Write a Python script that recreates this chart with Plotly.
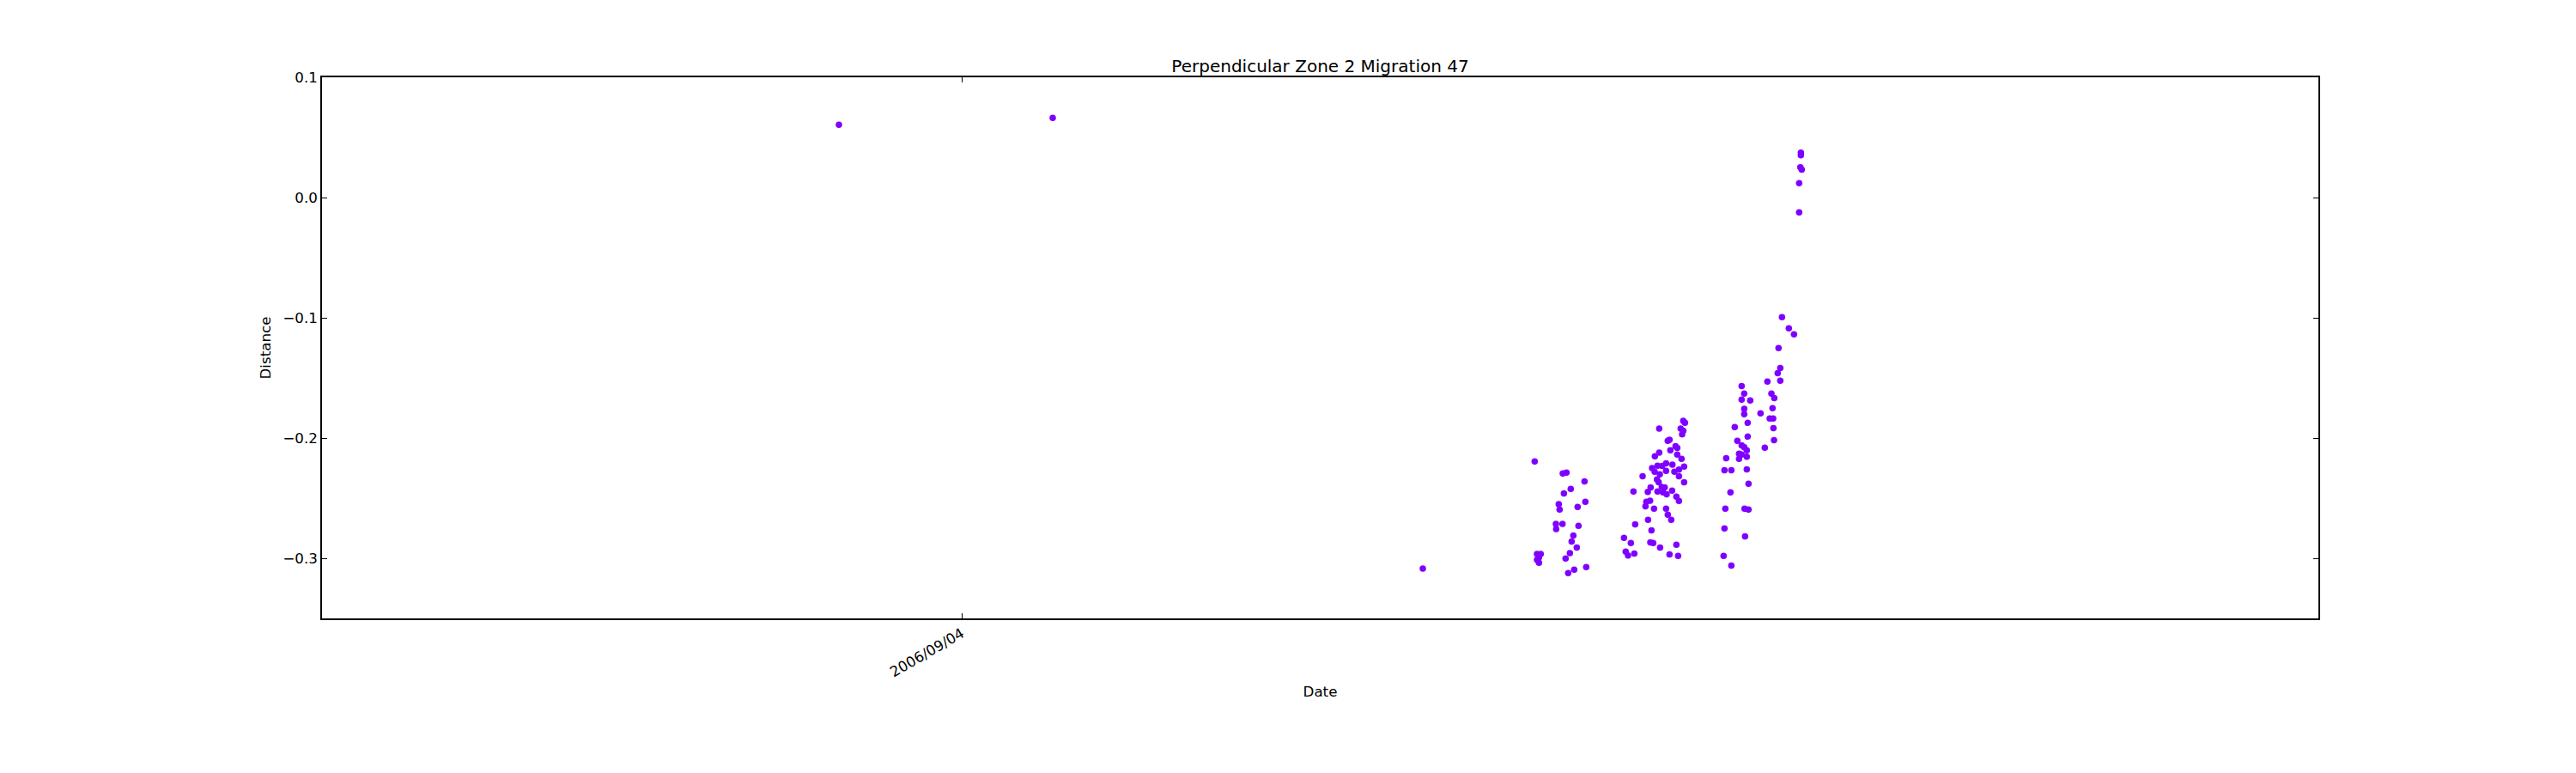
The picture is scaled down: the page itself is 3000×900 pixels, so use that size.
import pandas as pd
import plotly.graph_objects as go

# ---- text ----
chart_title = "Perpendicular Zone 2 Migration 47"
x_label = "Date"
y_label = "Distance"

# ---- axes ----
time_epoch = "2006-09-04 00:00"
x_view = ["2006-08-31 21:30", "2006-09-10 14:00"]
x_tick_dates = ["2006-09-04"]
x_tick_labels = ["2006/09/04"]
y_view = [-0.35, 0.1]
y_ticks = [0.1, 0.0, -0.1, -0.2, -0.3]

# ---- data: hours elapsed since 2006-09-04 00:00, and distance ----
hours_early = [-14.30, 10.60, 53.70]
distance_early = [0.0605, 0.0662, -0.3086]

hours_group1 = [66.73, 70.00, 70.43, 72.53, 70.93, 70.13, 72.63, 69.53, 69.63, 71.73,
                69.20, 69.97, 69.23, 71.83, 71.23, 71.03, 71.63, 70.83, 70.33, 72.73,
                71.33, 70.63, 67.00, 67.43, 67.23, 67.00, 67.23]
distance_group1 = [-0.2195, -0.2295, -0.2288, -0.2360, -0.2424, -0.2460, -0.2531, -0.2550, -0.2595, -0.2574,
                   -0.2714, -0.2714, -0.2757, -0.2731, -0.2810, -0.2860, -0.2910, -0.2957, -0.3002, -0.3074,
                   -0.3095, -0.3124, -0.2964, -0.2964, -0.2993, -0.3012, -0.3038]

hours_group2 = [84.03, 84.23, 81.23, 83.73, 84.03, 83.90, 82.23, 82.43, 83.13, 83.33,
                82.53, 81.23, 80.73, 83.33, 83.83, 84.13, 80.40, 81.03, 81.57, 82.03,
                82.77, 82.03, 83.00, 83.53, 80.70, 81.30, 79.30, 83.53, 80.97, 81.17,
                84.13, 81.53, 81.87, 80.23, 79.90, 78.23, 81.03, 81.67, 82.10, 82.73,
                83.23, 83.53, 79.73, 80.17, 79.63, 80.63, 82.03, 82.23, 82.63, 79.93,
                78.43, 80.33, 77.13, 77.93, 80.20, 80.53, 81.33, 83.23, 77.33, 77.60,
                78.33, 82.43, 83.43]
distance_group2 = [-0.1857, -0.1874, -0.1921, -0.1921, -0.1940, -0.1969, -0.2024, -0.2014, -0.2067, -0.2083,
                   -0.2102, -0.2121, -0.2152, -0.2138, -0.2174, -0.2238, -0.2250, -0.2231, -0.2233, -0.2210,
                   -0.2221, -0.2274, -0.2281, -0.2262, -0.2281, -0.2302, -0.2317, -0.2317, -0.2345, -0.2367,
                   -0.2367, -0.2407, -0.2410, -0.2410, -0.2448, -0.2445, -0.2445, -0.2452, -0.2467, -0.2438,
                   -0.2488, -0.2524, -0.2531, -0.2521, -0.2567, -0.2588, -0.2588, -0.2638, -0.2681, -0.2681,
                   -0.2717, -0.2767, -0.2831, -0.2874, -0.2867, -0.2874, -0.2910, -0.2888, -0.2945, -0.2976,
                   -0.2960, -0.2967, -0.2981]

hours_group3 = [95.53, 96.33, 96.93, 95.13, 95.33, 95.03, 95.33, 93.83, 90.83, 91.13,
                90.83, 91.83, 94.30, 94.63, 91.13, 91.13, 94.43, 93.03, 94.10, 94.50,
                91.53, 90.03, 94.53, 91.53, 90.33, 94.60, 90.83, 91.13, 90.53, 91.43,
                91.43, 90.53, 90.83, 93.53, 89.03, 88.83, 89.63, 91.43, 91.63, 89.53,
                88.93, 91.17, 91.63, 88.83, 91.23, 88.73, 89.63,
                97.73, 97.73, 97.67, 97.83, 97.53, 97.53]
distance_group3 = [-0.0995, -0.1088, -0.1138, -0.1252, -0.1417, -0.1460, -0.1524, -0.1531, -0.1567, -0.1631,
                   -0.1681, -0.1688, -0.1631, -0.1667, -0.1757, -0.1802, -0.1752, -0.1795, -0.1838, -0.1838,
                   -0.1874, -0.1909, -0.1917, -0.1988, -0.2024, -0.2017, -0.2060, -0.2076, -0.2131, -0.2102,
                   -0.2155, -0.2174, -0.2138, -0.2081, -0.2167, -0.2267, -0.2267, -0.2260, -0.2381, -0.2452,
                   -0.2588, -0.2588, -0.2595, -0.2752, -0.2817, -0.2981, -0.3060,
                   0.0374, 0.0352, 0.0252, 0.0233, 0.0119, -0.0124]

hours = hours_early + hours_group1 + hours_group2 + hours_group3
distance = distance_early + distance_group1 + distance_group2 + distance_group3
dates = pd.Timestamp(time_epoch) + pd.to_timedelta(hours, unit="h")

FONT = "DejaVu Sans"

fig = go.Figure(
    go.Scatter(
        x=dates,
        y=distance,
        mode="markers",
        marker=dict(color="#7f00ff", size=7.5, line=dict(width=0)),
        showlegend=False,
    )
)

axis_common = dict(
    showline=True,
    linecolor="black",
    linewidth=1.5,
    mirror="allticks",
    ticks="inside",
    ticklen=6,
    tickwidth=1,
    tickcolor="black",
    showgrid=False,
    zeroline=False,
    tickfont=dict(family=FONT, size=16.7, color="black"),
)

fig.update_xaxes(
    type="date",
    range=x_view,
    tickmode="array",
    tickvals=x_tick_dates,
    ticktext=x_tick_labels,
    tickangle=-30,
    title=dict(text=x_label, font=dict(family=FONT, size=16.7, color="black"), standoff=8),
    **axis_common,
)
fig.update_yaxes(
    range=y_view,
    tickmode="array",
    tickvals=y_ticks,
    tickformat=".1f",
    title=dict(text=y_label, font=dict(family=FONT, size=16.7, color="black"), standoff=10),
    **axis_common,
)

fig.update_layout(
    width=3000,
    height=900,
    autosize=False,
    margin=dict(l=367, r=308, t=82, b=188, pad=0),
    paper_bgcolor="white",
    plot_bgcolor="white",
    font=dict(family=FONT, color="black"),
    title=dict(
        text=chart_title,
        font=dict(family=FONT, size=20, color="black"),
        x=0.5,
        xref="paper",
        xanchor="center",
        y=1,
        yref="paper",
        yanchor="bottom",
        pad=dict(b=6),
    ),
)

fig.write_html("out.html")
